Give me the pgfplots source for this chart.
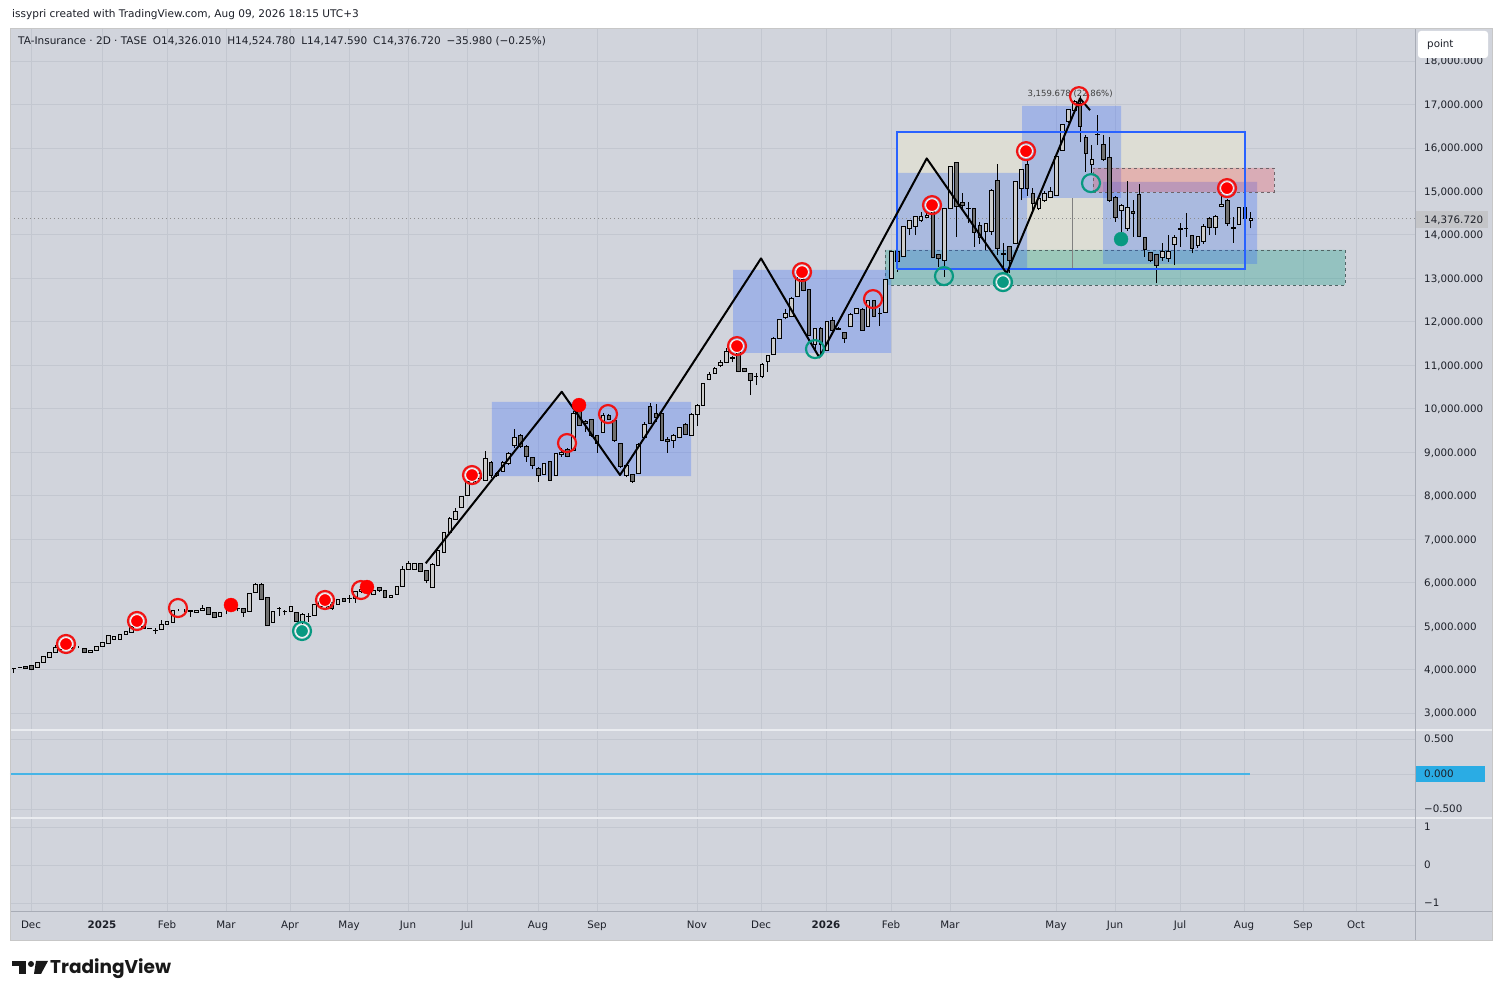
\documentclass[border=0pt]{standalone}
\usepackage{fontspec}
\setmainfont{DejaVu Sans}
\newfontfamily\logofont{Poppins}
\usepackage{pgfplots}
\pgfplotsset{compat=1.18}
\usepackage{pgfplotstable}

\definecolor{panebg}{RGB}{209,212,220}
\definecolor{gridc}{RGB}{195,199,208}
\definecolor{labc}{RGB}{28,31,40}
\definecolor{upc}{RGB}{204,204,204}
\definecolor{dnc}{RGB}{112,112,112}
\definecolor{tvblue}{RGB}{41,98,255}
\definecolor{tvred}{RGB}{242,54,69}
\definecolor{ringred}{RGB}{240,20,20}
\definecolor{dotred}{RGB}{255,0,0}
\definecolor{tvteal}{RGB}{8,153,129}
\definecolor{paleC}{RGB}{221,221,212}
\definecolor{sepdark}{RGB}{168,172,182}
\definecolor{seplight}{RGB}{234,236,240}
\definecolor{zeroline}{RGB}{70,180,230}
\definecolor{zerobox}{RGB}{42,172,228}
\definecolor{pricebox}{RGB}{196,197,200}

\newcommand\lab{\fontsize{10.3}{12}\selectfont}

\pgfplotstableread{
i o h l c
1 4020 4030 3928 4027
2 4040 4050 4035 4043
3 4066 4070 4015 4020
4 4096 4100 3981 3990
5 4050 4180 4040 4173
6 4173 4303 4165 4303
7 4280 4403 4270 4403
8 4403 4556 4395 4510
9 4470 4500 4440 4464
10 4470 4610 4450 4580
11 4500 4520 4470 4487
12 4518 4540 4495 4518
13 4487 4500 4395 4395
14 4403 4449 4400 4441
15 4441 4533 4430 4533
16 4533 4640 4520 4633
17 4610 4800 4600 4786
18 4702 4763 4690 4763
19 4694 4809 4690 4809
20 4817 4886 4810 4886
21 4863 4986 4850 4986
22 4990 5101 4950 5050
23 4986 5000 4950 4950
24 4950 4960 4940 4947
25 4894 4950 4817 4900
26 4924 5131 4920 5039
27 5039 5101 5030 5101
28 5093 5369 5090 5369
29 5384 5390 5340 5384
30 5369 5400 5330 5369
31 5346 5370 5216 5350
32 5315 5370 5310 5361
33 5361 5476 5355 5407
34 5423 5430 5270 5277
35 5315 5320 5208 5208
36 5223 5320 5220 5315
37 5330 5360 5277 5330
38 5400 5484 5380 5450
39 5407 5410 5338 5400
40 5407 5420 5216 5315
41 5338 5752 5330 5752
42 5775 5982 5770 5959
43 5967 5980 5600 5614
44 5660 5670 5010 5016
45 5078 5340 5070 5330
46 5407 5445 5230 5400
47 5330 5370 5250 5335
48 5338 5460 5330 5445
49 5315 5320 5090 5100
50 5100 5290 5000 5277
51 5215 5310 5100 5220
52 5238 5510 5230 5492
53 5445 5620 5400 5560
54 5538 5560 5370 5445
55 5538 5550 5380 5410
56 5499 5620 5490 5614
57 5630 5650 5560 5570
58 5637 5714 5540 5640
59 5637 5800 5540 5790
60 5790 5850 5760 5830
61 5830 5880 5760 5770
62 5736 5840 5730 5829
63 5882 5905 5790 5814
64 5814 5830 5640 5660
65 5660 5720 5650 5714
66 5737 5930 5720 5921
67 5921 6381 5910 6304
68 6304 6500 6300 6442
69 6312 6450 6300 6442
70 6442 6460 6240 6250
71 6289 6300 5980 6059
72 5890 6440 5880 6427
73 6404 6740 6390 6734
74 6688 7170 6680 7148
75 7148 7500 7140 7470
76 7454 7720 7440 7646
77 7730 7990 7720 7976
78 8014 8340 8000 8321
79 8321 8590 8300 8520
80 8400 8600 8350 8500
81 8359 9026 8350 8857
82 8765 8790 8400 8474
83 8512 8540 8440 8459
84 8551 8800 8540 8765
85 8742 9000 8700 8972
86 9149 9524 9100 9340
87 9394 9420 9100 9126
88 9141 9160 8780 8895
89 8880 8900 8604 8696
90 8627 8650 8320 8459
91 8489 8760 8470 8742
92 8780 8800 8340 8359
93 8474 8990 8460 8972
94 8950 9100 8900 9000
95 9064 9100 8880 8911
96 9049 9950 9040 9892
97 9930 10080 9600 9624
98 9700 9740 9470 9650
99 9754 9770 9360 9379
100 9394 9400 8988 9202
101 9455 9900 9440 9854
102 9854 9870 9740 9754
103 9739 9760 9240 9263
104 9202 9210 8640 8666
105 8474 8720 8420 8704
106 8489 8500 8300 8321
107 8512 9200 8500 9180
108 9340 9700 9300 9647
109 10061 10122 9650 9662
110 9892 10100 9700 9800
111 9892 9900 9260 9279
112 9302 9340 8988 9241
113 9264 9420 9100 9394
114 9340 9590 9320 9570
115 9639 9660 9400 9410
116 9394 9900 9380 9877
117 9869 10100 9600 10080
118 10080 10600 10060 10570
119 10674 10850 10650 10797
120 10812 10970 10800 10927
121 10989 11119 10950 11065
122 11065 11388 11050 11311
123 11158 11210 11080 11170
124 11311 11450 10840 10850
125 10927 10930 10840 10850
126 10812 10830 10314 10659
127 10735 10827 10544 10740
128 10751 11050 10700 11019
129 11096 11240 10850 11226
130 11257 11640 11240 11617
131 11617 12070 11600 12054
132 12100 12300 12054 12192
133 12131 12560 12100 12537
134 12591 13150 12580 12974
135 12974 13100 12700 12729
136 12744 12760 11680 11694
137 11487 11860 11384 11847
138 11847 11870 11211 11487
139 11349 12010 11330 12000
140 12039 12100 11780 11809
141 11855 11870 11810 11830
142 11755 11770 11518 11617
143 11901 12200 11880 12177
144 12192 12320 12180 12307
145 12292 12310 11790 11809
146 11886 12510 11870 12499
147 12499 12510 12100 12116
148 12192 12307 11901 12200
149 12215 12990 12200 12974
150 13000 13620 12990 13611
151 13611 13726 13150 13380
152 13511 14210 13500 14201
153 14147 14350 13994 14339
154 14186 14430 13994 14416
155 14324 14531 14300 14416
156 14393 14500 14380 14454
157 14531 14600 13460 13480
158 13557 13560 13265 13457
159 13419 14620 13036 14607
160 14607 15580 14590 15566
161 15665 15680 13955 14646
162 14745 14952 14600 14669
163 14607 14760 14263 14600
164 14607 14620 13726 14055
165 14209 14300 13800 13940
166 14071 14270 13649 14262
167 14071 15050 14000 15029
168 15259 15619 13533 13687
169 13557 13802 13265 13560
170 13726 13730 13112 13419
171 13802 15240 13790 15221
172 15067 15520 14800 15504
173 15619 15700 14900 15067
174 14952 15067 14569 14722
175 14607 14850 14569 14837
176 14799 15000 14750 14952
177 14853 15106 14840 14990
178 14914 15820 14900 15811
179 15949 16560 15930 16539
180 16601 16900 16580 16884
181 16869 17100 16850 17061
182 17022 17200 16125 16486
183 16240 16300 15451 15872
184 15620 16064 15412 15735
185 16309 16754 16064 16300
186 16079 16294 15700 15734
187 15780 16240 14750 14784
188 14860 14900 14300 14400
189 14554 14700 14032 14684
190 14147 15236 14100 14623
191 14546 14799 13955 14500
192 14929 15160 13940 13971
193 13940 13960 13500 13664
194 13595 13610 13380 13419
195 13549 13560 12882 13304
196 13480 13802 13400 13610
197 13457 13994 13380 13610
198 13787 14000 13304 13940
199 14132 14262 13726 14140
200 14147 14492 13955 14140
201 13994 14000 13572 13687
202 13749 13980 13700 13955
203 13841 14240 13800 14201
204 14377 14400 13994 14170
205 14170 14450 14000 14431
206 14646 14914 14630 14707
207 14799 14830 14200 14262
208 14170 14416 13818 14150
209 14239 14650 14230 14630
210 14630 14722 14186 14377
211 14326 14525 14148 14377
}\candles

\pgfplotsset{
  tvgeom/.style={scale only axis, anchor=south west, width=1405pt,
    xmin=0.321, xmax=238.86, scaled x ticks=false, scaled y ticks=false},
  tvmain/.style={tvgeom, at={(10pt,270pt)}, height=702pt, ymin=2608.9, ymax=18759},
  tvx/.style={xtick={3.886,15.94,26.98,36.99,47.86,57.88,67.89,77.91,89.96,99.98,116.96,127.83,138.86,149.90,159.91,177.91,187.93,198.96,209.83,219.85,228.84}},
}

\begin{document}
\begin{tikzpicture}[x=1pt,y=1pt]
\fill[white] (0,0) rectangle (1502,1000);
\fill[panebg] (10,60) rectangle (1492,972);
\node[anchor=base west, inner sep=0pt, text=labc] at (12,982) {\fontsize{10.55}{12}\selectfont issypri created with TradingView.com, Aug 09, 2026 18:15 UTC+3};

% ---------- main pane ----------
\begin{axis}[tvmain, tvx, xticklabels={},
  axis line style={draw=none}, major tick length=0pt,
  ytick={3000,4000,...,18000},
  yticklabels={{3,000.000},{4,000.000},{5,000.000},{6,000.000},{7,000.000},{8,000.000},{9,000.000},{10,000.000},{11,000.000},{12,000.000},{13,000.000},{14,000.000},{15,000.000},{16,000.000},{17,000.000},{18,000.000}},
  yticklabel pos=right,
  yticklabel style={anchor=base west, inner sep=0pt, xshift=9pt, yshift=-4pt, font=\lab, text=labc},
  /pgf/number format/assume math mode=true,
  grid=major, major grid style={gridc, line width=0.8pt}]
% big range box fill
\addplot [draw=none, fill=paleC] coordinates {(150.92,13215) (210.0,13215) (210.0,16366) (150.92,16366) (150.92,13215)};
% teal zone
\addplot [draw={rgb,255:red,80;green,100;blue,100}, dashed, line width=0.8pt, fill=tvteal, fill opacity=0.3] coordinates {(148.88,12847) (226.97,12847) (226.97,13652) (148.88,13652) (148.88,12847)};
% blue boxes
\addplot [draw=none, fill=tvblue, fill opacity=0.28] coordinates {(82.15,8452) (115.94,8452) (115.94,10155) (82.15,10155) (82.15,8452)};
\addplot [draw=none, fill=tvblue, fill opacity=0.28] coordinates {(123.07,11282) (149.90,11282) (149.90,13192) (123.07,13192) (123.07,11282)};
\addplot [draw=none, fill=tvblue, fill opacity=0.28] coordinates {(150.92,13238) (172.99,13238) (172.99,15423) (150.92,15423) (150.92,13238)};
\addplot [draw=none, fill=tvblue, fill opacity=0.28] coordinates {(172.14,14848) (188.95,14848) (188.95,16965) (172.14,16965) (172.14,14848)};
\addplot [draw=none, fill=tvblue, fill opacity=0.28] coordinates {(185.89,13330) (212.04,13330) (212.04,15216) (185.89,15216) (185.89,13330)};
% pink zone
\addplot [draw={rgb,255:red,110;green,100;blue,105}, dashed, line width=0.8pt, fill=tvred, fill opacity=0.25] coordinates {(184.19,14986) (214.92,14986) (214.92,15539) (184.19,15539) (184.19,14986)};
% thin vertical marker
\addplot [gray, line width=0.8pt] coordinates {(180.63,13215) (180.63,14848)};
% last price line
\addplot [black!45, line width=0.9pt, dash pattern=on 1pt off 3pt] coordinates {(0.321,14376.72) (238.86,14376.72)};
% wicks
\addplot [draw=none, mark=none, error bars/.cd, y dir=plus, y explicit, error mark=none,
  error bar style={draw=black, line width=1pt}]
  table [x=i, y=l, y error expr={\thisrow{h}-\thisrow{l}}] {\candles};
\end{axis}

% ---------- candle bodies ----------
\begin{axis}[tvmain, hide axis, ybar stacked, bar width=0.62]
\addplot [draw=none, fill=none] table [x=i, y expr={min(\thisrow{o},\thisrow{c})}] {\candles};
\addplot [draw=black, line width=1pt, fill=upc] table [x=i, y expr={max(\thisrow{c}-\thisrow{o},0)}] {\candles};
\addplot [draw=black, line width=1pt, fill=dnc] table [x=i, y expr={max(\thisrow{o}-\thisrow{c},0)}] {\candles};
\end{axis}

% ---------- drawings ----------
\begin{axis}[tvmain, hide axis]
\addplot [draw=tvblue, line width=2pt] coordinates {(150.92,13215) (210.0,13215) (210.0,16366) (150.92,16366) (150.92,13215)};
\addplot [black, line width=2pt, line join=round] coordinates {(70.9,6443) (93.99,10390) (103.89,8474) (127.83,13458) (137.72,11181) (155.96,15758) (169.54,13113) (181.98,17138) (183.68,16869)};
\node[anchor=base, inner sep=0pt, text=black!75] at (axis cs:180.3,17180) {\fontsize{8.5}{10}\selectfont 3,159.678 (22.86\%)};
% red rings
\addplot [only marks, mark=o, mark size=9pt, mark options={draw=ringred, line width=2.2pt}] coordinates {(9.83,4587) (21.88,5116) (53.8,5599) (78.76,8474) (123.75,11441) (134.79,13143) (156.86,14684) (172.82,15926) (206.94,15075) (28.84,5415) (59.91,5829) (94.89,9210) (101.85,9877) (146.84,12522) (181.82,17191)};
% red dots inside rings
\addplot [only marks, mark=*, mark size=6.4pt, mark options={fill=dotred, draw=white, line width=0.9pt}] coordinates {(9.83,4587) (21.88,5116) (53.8,5599) (78.76,8474) (123.75,11441) (134.79,13143) (156.86,14684) (172.82,15926) (206.94,15075)};
% red dots alone
\addplot [only marks, mark=*, mark size=7pt, mark options={fill=dotred, draw=dotred, line width=0.3pt}] coordinates {(37.84,5484) (60.93,5898) (96.93,10084)};
% teal rings
\addplot [only marks, mark=o, mark size=9pt, mark options={draw=tvteal, line width=2.2pt}] coordinates {(49.9,4886) (168.91,12913) (136.99,11372) (158.89,13051) (183.85,15190)};
\addplot [only marks, mark=*, mark size=6.4pt, mark options={fill=tvteal, draw=white, line width=0.9pt}] coordinates {(49.9,4886) (168.91,12913)};
\addplot [only marks, mark=*, mark size=7pt, mark options={fill=tvteal, draw=tvteal, line width=0.3pt}] coordinates {(188.95,13902)};
\end{axis}

% ---------- pane 2 ----------
\begin{axis}[tvgeom, tvx, at={(10pt,182pt)}, height=88pt, ymin=-0.6286, ymax=0.6286,
  xticklabels={}, axis line style={draw=none}, major tick length=0pt,
  ytick={-0.5,0,0.5}, yticklabels={{−0.500},{},{0.500}},
  yticklabel pos=right,
  yticklabel style={anchor=base west, inner sep=0pt, xshift=9pt, yshift=-4pt, font=\lab, text=labc},
  grid=major, major grid style={gridc, line width=0.8pt}]
\addplot [draw=zeroline, color=zeroline, line width=1.1pt, mark=none] coordinates {(0.321,0) (210.85,0)};
\end{axis}

% ---------- pane 3 ----------
\begin{axis}[tvgeom, tvx, at={(10pt,88pt)}, height=94pt, ymin=-1.2368, ymax=1.2368,
  axis line style={draw=none}, major tick length=0pt,
  xticklabels={Dec,\textbf{2025},Feb,Mar,Apr,May,Jun,Jul,Aug,Sep,Nov,Dec,\textbf{2026},Feb,Mar,May,Jun,Jul,Aug,Sep,Oct},
  xticklabel style={anchor=base, yshift=-17pt, font=\lab, text=labc},
  ytick={-1,0,1}, yticklabels={{−1},{0},{1}},
  yticklabel pos=right,
  yticklabel style={anchor=base west, inner sep=0pt, xshift=9pt, yshift=-4pt, font=\lab, text=labc},
  grid=major, major grid style={gridc, line width=0.8pt}]
\addplot [draw=none] coordinates {(1,0) (2,0)};
\end{axis}

% separators and frame
\draw[seplight, line width=1.5pt] (10,270) -- (1492,270);
\draw[seplight, line width=1.5pt] (10,182) -- (1492,182);
\draw[sepdark, line width=1pt] (10,88) -- (1492,88);
\draw[sepdark, line width=1pt] (1415,60) -- (1415,972);
\draw[black!22, line width=0.8pt] (10,60) rectangle (1492,972);

% header inside chart
\node[anchor=base west, inner sep=0pt, text=labc] at (18,955) {\fontsize{10.5}{12}\selectfont TA-Insurance · 2D · TASE\hspace{6pt}O14,326.010\hspace{6pt}H14,524.780\hspace{6pt}L14,147.590\hspace{6pt}C14,376.720\hspace{6pt}−35.980 (−0.25\%)};

% price label boxes
\fill[pricebox] (1416,772) rectangle (1488,789);
\node[anchor=base west, inner sep=0pt, text=labc] at (1424,776.5) {\lab 14,376.720};
\fill[zerobox] (1416,218) rectangle (1485,234);
\node[anchor=base west, inner sep=0pt, text=labc] at (1424,222) {\lab 0.000};
\fill[white, rounded corners=3pt] (1418,942) rectangle (1488,969);
\node[anchor=base west, inner sep=0pt, text=labc] at (1427,952) {\lab point};

% logo
\fill[black!90] (12,34) rectangle (26,39);
\fill[black!90] (19,26) rectangle (26,39);
\fill[black!90] (31,36) circle (3);
\fill[black!90] (36,39) -- (48,39) -- (41,26) -- (34,26) -- cycle;
\node[anchor=base west, inner sep=0pt, text=black!90] at (50,26) {\logofont\bfseries\fontsize{18.5}{21}\selectfont TradingView};

\pgfresetboundingbox
\useasboundingbox (0,0) rectangle (1502,1000);
\end{tikzpicture}
\end{document}
